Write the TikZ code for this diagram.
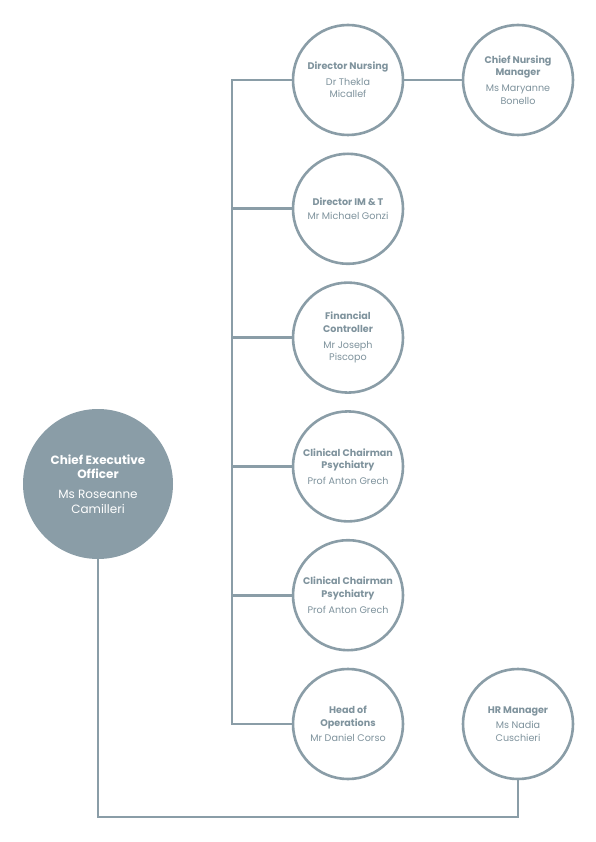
\documentclass[tikz,border=0pt]{standalone}
\usepackage{fontspec}
\setmainfont{Poppins}
\usetikzlibrary{positioning}
\definecolor{slate}{HTML}{8A9DA7}
\definecolor{slatetext}{HTML}{7F939D}

\begin{document}
\begin{tikzpicture}[
					x=1pt, y=-1pt,
					node distance=128.8pt,
					role/.style={circle, draw=slate, line width=2.6pt, fill=white,
						minimum size=110pt, inner sep=0pt, align=center,
						text=slatetext, font=\fontsize{9.6}{12.7}\selectfont},
					ceo/.style={circle, fill=slate, minimum size=150pt, inner sep=0pt,
						align=center, text=white, font=\fontsize{12}{14.7}\selectfont},
					link/.style={draw=slate, line width=2.6pt}
					]
					\useasboundingbox (0,0) rectangle (596,842);
					
					% Nodes
					\node [ceo] (CEO) at (98,484) {\textbf{Chief Executive}\\\textbf{Officer}\\[5pt]Ms Roseanne\\Camilleri};
					\node [role] (DirNursing) at (348,80) {\textbf{Director Nursing}\\[3pt]Dr Thekla\\Micallef};
					\node [role, right of=DirNursing, node distance=170pt] (ChiefNursing) {\textbf{Chief Nursing}\\\textbf{Manager}\\[3pt]Ms Maryanne\\Bonello};
					\node [role, below of=DirNursing] (DirIMT) {\textbf{Director IM \& T}\\[2pt]Mr Michael Gonzi};
					\node [role, below of=DirIMT] (FinCtrl) {\textbf{Financial}\\\textbf{Controller}\\[3pt]Mr Joseph\\Piscopo};
					\node [role, below of=FinCtrl] (ClinChairA) {\textbf{Clinical Chairman}\\\textbf{Psychiatry}\\[3pt]Prof Anton Grech};
					\node [role, below of=ClinChairA] (ClinChairB) {\textbf{Clinical Chairman}\\\textbf{Psychiatry}\\[3pt]Prof Anton Grech};
					\node [role, below of=ClinChairB] (HeadOps) {\textbf{Head of}\\\textbf{Operations}\\[3pt]Mr Daniel Corso};
					\node [role, right of=HeadOps, node distance=170pt] (HRManager) {\textbf{HR Manager}\\[3pt]Ms Nadia\\Cuschieri};
					
					% Line guides
					\coordinate (trunk) at (232,0);
					\coordinate (base) at (0,817);
					
					% Edges
					\draw [link] (DirNursing.west) -- (DirNursing.west -| trunk) -- (HeadOps.west -| trunk) -- (HeadOps.west);
					\draw [link] (DirIMT.west) -- (DirIMT.west -| trunk);
					\draw [link] (FinCtrl.west) -- (FinCtrl.west -| trunk);
					\draw [link] (ClinChairA.west) -- (ClinChairA.west -| trunk);
					\draw [link] (ClinChairB.west) -- (ClinChairB.west -| trunk);
					\draw [link] (DirNursing) -- (ChiefNursing);
					\draw [link] (CEO.south) -- (CEO.south |- base) -| (HRManager.south);
				\end{tikzpicture}
\end{document}
